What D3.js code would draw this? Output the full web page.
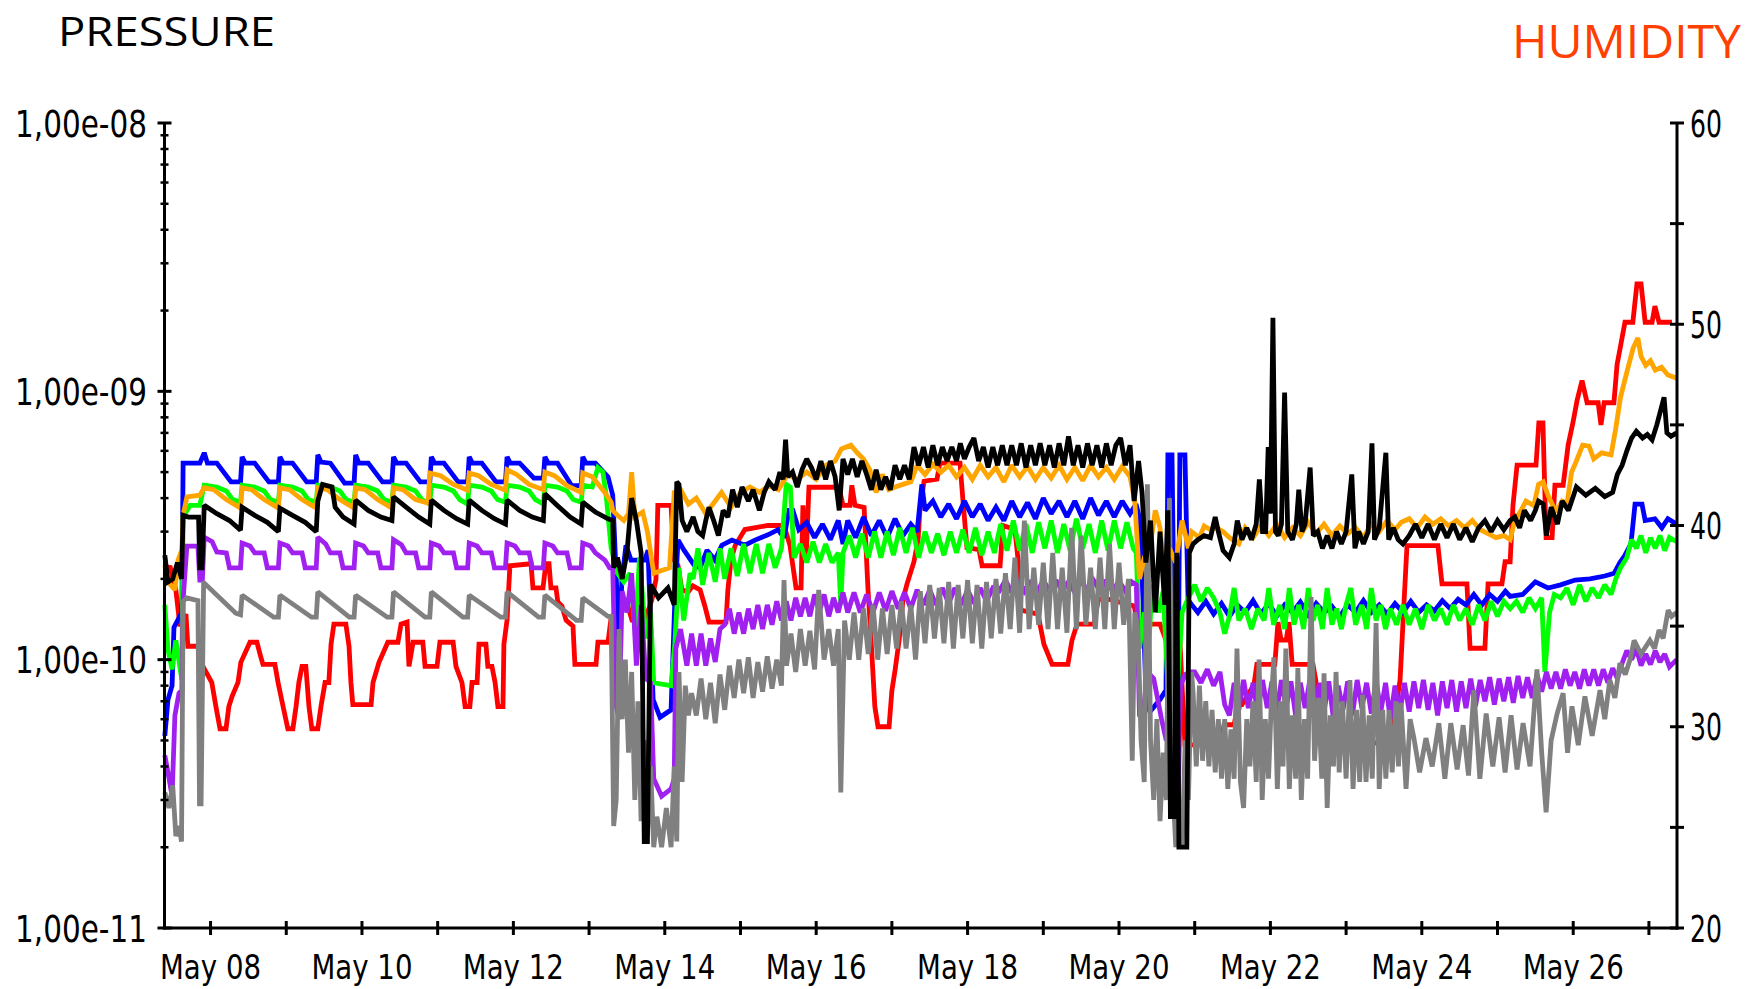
<!DOCTYPE html>
<html><head><meta charset="utf-8">
<script src="https://cdn.jsdelivr.net/npm/d3@7"></script>
<style>html,body{margin:0;padding:0;background:#fff}svg{display:block}</style>
</head><body>
<svg id="chart" width="1756" height="989"></svg>
<script>
// time of each point = hours since May 7 00:00; pressure arrays are in units of 1e-10 mbar
const UNIT = 1e-10;
const leftTickLabels = ["1,00e-11","1,00e-10","1,00e-09","1,00e-08"];
const leftTickValues = [1e-11,1e-10,1e-9,1e-8];
const rightTickLabels = ["20","30","40","50","60"];
const rightTickValues = [20,30,40,50,60];
const dayTickLabels = ["May 08","May 10","May 12","May 14","May 16","May 18","May 20","May 22","May 24","May 26"];

const blue = [[9.5,0.52],[10.5,0.71],[11.8,0.8],[12.4,1.32],[14.9,1.5],[15.3,5.4],[20.6,5.4],
[22,5.9],[23,5.4],[26,5.4],[30.5,4.6],[33.5,4.6],[34,5.7],[35,5.4],[38,5.4],[42.5,4.6],[45.5,4.6],
[46,5.7],[47,5.4],[50,5.4],[54.5,4.6],[57.5,4.6],[58,5.8],[59,5.45],[62,5.4],[66.5,4.55],[69.5,4.55],
[70,5.8],[71,5.4],[74,5.4],[78.5,4.6],[81.5,4.6],[82,5.7],[83,5.4],[86,5.4],[90.5,4.6],[93.5,4.6],
[94,5.7],[95,5.4],[98,5.4],[102.5,4.6],[105.5,4.6],[106,5.7],[107,5.4],[110,5.4],[114.5,4.6],[117.5,4.6],
[118,5.7],[119,5.4],[122,5.4],[126.5,4.75],[129.5,4.75],[130,5.7],[131,5.4],[134,5.4],[138.5,4.45],[141.5,4.45],
[142,5.7],[143,5.4],[146,5.4],[150,4.8],[151.5,4.1],
[152.8,1.8],[153.5,1.04],[154.4,1.98],[155.7,2.67],[157.3,2.35],[161.7,2.35],[162.7,2.56],[164.3,0.71],[166.5,0.61],[170,0.65],[171.2,1.67],[172.2,2.79],
[174.1,2.56],[177.3,2.25],[179.2,2.2],[181.4,2.56],[183.9,2.35],[186.1,2.67],[189.3,2.79],[193.4,2.67],[196.6,2.79],[200.7,2.92],[203.9,3.05],[205.8,2.85],[207.4,3.6],[208.6,3.6],[210.5,3.05],
[213,3.25],[215.5,2.85],[218,3.2],[220.5,2.8],[223,3.3],[224.5,2.7],[226,3.3],[228.5,2.85],[231,3.4],[233.5,2.9],[236,3.3],[238.5,2.85],[241,3.35],[243.5,2.9],[246,3.2],[248,3.0],[249.5,4.5],[250.5,3.6],
[253,3.9],[255.5,3.4],[258,3.8],[260.5,3.35],[263,3.9],[265.5,3.4],[268,3.8],[270.5,3.3],[273,3.7],[275.5,3.3],[278,3.9],[280.5,3.4],[283,3.85],[285.5,3.35],[288,4.0],[290.5,3.5],[293,3.9],[295.5,3.4],[298,3.9],[300.5,3.35],[303,4.0],[305.5,3.45],[308,3.9],[310.5,3.4],[313,3.9],[315.5,3.5],
[317.4,3.8],[318.7,3.3],[319.6,1.67],[320.6,0.71],[321.8,0.64],[325,0.71],[326.9,0.77],[327.5,5.8],[328.8,5.8],[329.8,0.71],[330.7,0.57],[331.3,5.8],[332.9,5.8],[333.9,1.67],[335.1,1.6],
[337,1.5],[339.5,1.65],[342,1.48],[344.5,1.62],[347,1.45],[349.5,1.6],[352,1.5],[354.5,1.66],[357,1.48],[359.5,1.62],[362,1.45],[364.5,1.6],[367,1.5],[369.5,1.64],[372,1.47],[374.5,1.62],[377,1.5],[379.5,1.58],[382,1.45],[384.5,1.6],[387,1.5],[389.5,1.66],[392,1.5],[394.5,1.6],[397,1.48],[399.5,1.62],[402,1.5],[404.5,1.65],[407,1.5],[409.5,1.6],[412,1.52],[414.5,1.66],[417,1.55],[419.5,1.68],[422,1.6],[424.5,1.75],[427,1.6],[429.5,1.75],[432,1.65],[434.5,1.8],
[436,1.72],[440,1.75],[444,1.95],[448,1.85],[452,1.9],[456.6,1.98],[461.3,2.0],[466,2.05],[469,2.1],[470.8,2.3],[472.4,2.45],[474.3,2.7],[475.6,3.8],[477.8,3.8],[478.8,3.3],[481.9,3.35],[484.1,3.1],[486,3.35],[488.8,3.2]];

const green = [[9.5,1.6],[10.5,1.09],[11.8,0.92],[13,1.18],[14.9,0.84],[15.3,3.4],[17.5,3.76],[20.6,3.76],
[22,4.47],[26,4.4],[29,4.25],[31,3.95],[33.5,3.86],[34,4.47],[38,4.4],[41,4.25],[43,3.95],[45.5,3.86],
[46,4.47],[50,4.4],[53,4.25],[55,3.95],[57.5,3.86],[58,4.47],[62,4.4],[65,4.25],[67,3.95],[69.5,3.86],
[70,4.47],[74,4.4],[77,4.25],[79,3.95],[81.5,3.86],[82,4.47],[86,4.4],[89,4.25],[91,3.95],[93.5,3.8],
[94,4.47],[98,4.4],[101,4.25],[103,3.95],[105.5,3.8],[106,4.47],[110,4.4],[113,4.25],[115,3.95],[117.5,3.86],
[118,4.47],[122,4.4],[125,4.25],[127,3.95],[129.5,3.8],[130,4.47],[134,4.4],[137,4.25],[139,3.95],[141.5,3.86],
[142,4.47],[145,4.4],[146.8,5.2],[148.4,5.0],[149.5,4.0],[151,2.6],[153,2.1],[155,1.95],[157,2.1],[158.6,1.3],[160,2.4],[162,1.2],[163.5,1.5],[164.5,0.82],[170,0.8],[171.2,1.15],[172.5,2.2],[174,1.4],[176,2.1],
[177,2.0],[178.5,2.6],[180,1.9],[182,2.5],[184,1.95],[185.5,2.6],[187,2.0],[189,2.6],[191,2.05],[193,2.7],[195,2.1],[197,2.7],[199,2.1],[201,2.7],[203,2.2],[205,2.6],[206.5,4.5],[207.8,4.4],[209,2.4],[211,2.7],[213,2.3],[215,2.75],[217,2.3],[219,2.7],[221,2.3],[223,2.5],[223.8,1.6],[224.5,2.5],[226.5,2.9],[228.5,2.4],[230.5,2.95],[232.5,2.4],[234.5,3.0],[236.5,2.4],[238.5,3.0],[240.5,2.45],[242.5,3.1],[244.5,2.5],[246.5,3.1],[248.5,2.4],[250.5,3.0],[252.5,2.5],[254.5,2.95],[256.5,2.45],[258.5,3.0],[260.5,2.5],[262.5,3.05],[264.5,2.5],[266.5,3.1],[268.5,2.45],[270.5,3.0],[272.5,2.5],[274.5,3.2],[276.5,2.55],[278.5,3.3],[280.5,2.55],[282.5,3.2],[284.5,2.5],[286.5,3.25],[288.5,2.6],[290.5,3.3],[292.5,2.5],[294.5,3.2],[296.5,2.55],[298.5,3.35],[300.5,2.6],[302.5,3.2],[304.5,2.5],[306.5,3.3],[308.5,2.55],[310.5,3.3],[312.5,2.6],[314.5,3.25],[316.5,2.6],
[317.5,2.5],[318.5,1.1],[320,1.5],[321,0.9],[322.5,1.9],[324.5,1.5],[326,1.8],[327.5,0.8],[329,1.0],[330.5,0.78],[332,1.5],[334,1.7],
[336,1.9],[338,1.65],[340,1.85],[342,1.7],[344,1.5],[345.5,1.25],[347,1.45],[348.5,1.85],[350,1.4],[352,1.55],[354,1.3],[356,1.55],[358,1.4],[359.5,1.85],[361,1.35],[363,1.6],[364.5,1.3],[366,1.85],[367.5,1.35],[369,1.6],[370.5,1.3],[372,1.85],[373.5,1.4],[375,1.6],[376.5,1.3],[378,1.85],[379.5,1.35],[381,1.55],[382.5,1.3],[384,1.6],[385.5,1.85],[387,1.35],[389,1.6],[390.5,1.3],[392,1.85],[393.5,1.4],[395,1.6],[396.5,1.3],[398,1.55],[400,1.35],[402,1.6],[404,1.35],[406,1.55],[408,1.3],[410,1.6],[412,1.4],[414,1.55],[416,1.35],[418,1.6],[420,1.4],[422,1.55],[424,1.35],[426,1.6],[428,1.4],[430,1.65],[432,1.45],[434,1.65],
[436,1.55],[438,1.65],[440,1.5],[442,1.7],[444,1.55],[446,1.7],[447,0.9],[448.5,1.5],[450,1.75],
[452,1.7],[454,1.85],[456,1.6],[458,1.9],[460,1.65],[462,1.85],[464,1.7],[466,1.9],[468,1.75],[469.5,2.0],[471,2.2],[473,2.4],[474.5,2.8],[476,2.6],[477.5,2.9],[479,2.5],[480.5,2.85],[482,2.6],[483.5,2.9],[485,2.55],[486.5,2.85],[488.8,2.75]];

const orange = [[9.5,2.25],[10.5,1.95],[12.7,1.82],[13.7,2.35],[14.9,2.56],[15.3,3.45],[16.5,4.04],[20.6,4.1],
[22,4.37],[25,4.3],[29,3.95],[33.5,3.67],[34,4.37],[37,4.3],[41,3.95],[45.5,3.67],[46,4.37],[49,4.3],[53,3.95],[57.5,3.67],
[58,4.37],[61,4.3],[65,3.95],[69.5,3.67],[70,4.37],[73,4.3],[77,3.95],[81.5,3.67],[82,4.37],[85,4.3],[89,3.95],[93,3.83],
[93.5,4.96],[97,4.85],[101,4.5],[105.5,4.28],[106,4.96],[109,4.85],[113,4.5],[117.5,4.28],[118,5.1],[121,4.9],[125,4.5],[129.5,4.3],
[130,5.0],[133,4.85],[137,4.45],[141.5,4.2],[142,4.96],[145,4.8],[149,4.2],[151,3.86],
[151.5,3.6],[153,3.45],[155,3.3],[156.5,3.5],[157.5,5.0],[158.5,3.4],[161,3.55],[162.5,3.0],[164.5,2.1],[169.5,2.2],[171,4.2],[173,4.3],[175.5,3.8],[178,4.0],[181,3.5],[184,3.9],[186,4.2],[189,3.7],[192,4.2],[195,4.4],[198,4.2],[201,4.45],[204,4.3],[207,4.9],[210,4.7],[213,5.0],[216,4.7],[219,5.3],[222,5.5],[224,6.1],[227,6.3],[229,5.9],[231,5.6],[233,5.1],[235,4.2],[237,4.9],[239,4.3],[241,4.4],[243.5,4.5],[246,4.6],
[248,5.3],[250.5,4.9],[253,5.35],[255.5,5.0],[258,5.3],[260.5,4.8],[263,5.2],[265.5,4.7],[268,5.3],[270.5,4.8],[273,5.2],[275.5,4.6],[278,5.3],[280.5,4.8],[283,5.25],[285.5,4.7],[288,5.2],[290.5,4.75],[293,5.3],[295.5,4.7],[298,5.2],[300.5,4.65],[303,5.3],[305.5,4.8],[308,5.2],[310.5,4.7],[313,5.25],[315.5,4.8],
[317,3.9],[318.5,2.0],[320,2.4],[322,2.7],[323.5,3.6],[325,3.1],[326.5,2.1],[328,2.6],[330,2.3],[332,3.3],[334,2.6],[335,3.0],[337.5,2.85],[339,3.15],[341,3.05],[343,3.1],[345,3.0],[347,2.85],[350,2.7],
[352,3.1],[354.5,2.85],[357,3.15],[359.5,2.9],[362,3.2],[364.5,2.85],[367,3.1],[369.5,2.9],[372,3.25],[374.5,2.95],[377,3.2],[379.5,2.9],[382,3.15],[384.5,2.95],[387,3.1],[389.5,2.85],[392,3.2],[394.5,3.0],[397,3.3],[399.5,3.05],[401.5,3.25],
[404,3.35],[406.5,3.1],[409,3.4],[411.5,3.2],[414,3.35],[416.5,3.15],[419,3.3],[421.5,3.1],[424,3.3],[426.5,3.05],[429,2.95],[431.5,2.85],[434,2.9],[436,2.8],[437.5,3.3],[439.5,3.6],[441,3.9],[443.5,3.75],[445,4.5],[446.5,4.6],[448,4.1],[450.5,3.55],[452.5,3.9],[454,3.8],[455.5,5.0],[457,5.5],[459,6.3],[461,6.25],[462.5,5.6],[465,5.9],[468,5.8],[469.5,7.3],[471,9.5],[473,11.8],[475,14.5],[476.5,15.8],[477.5,13.5],[479,12.5],[480.5,13.0],[482,12.0],[484,12.3],[486,11.5],[488.8,11.2]];

const black = [[9.5,2.45],[10.5,1.95],[12,2.0],[13.5,2.3],[14.8,2.0],[15.3,3.45],[17,3.4],[20.2,3.4],[20.6,2.2],[21.3,2.2],
[22,3.76],[26,3.5],[30,3.3],[33.5,3.04],[34,3.7],[38,3.45],[42,3.25],[45.5,3.0],[46,3.67],[50,3.45],[54,3.25],[57.5,3.0],
[58,3.9],[59.5,4.5],[62.5,4.4],[63.5,3.7],[66,3.4],[69.5,3.2],[70,3.93],[74,3.6],[78,3.4],[81.5,3.3],[82,4.04],[86,3.7],[90,3.4],[93.5,3.2],
[94,3.93],[98,3.6],[102,3.35],[105.5,3.2],[106,3.93],[110,3.6],[114,3.35],[117.5,3.2],[118,3.93],[122,3.6],[126,3.4],[129.5,3.3],
[130,4.15],[134,3.75],[138,3.4],[141.5,3.2],[142,3.86],[146,3.55],[150,3.35],[151.5,3.3],
[151.8,2.2],[153,2.4],[154.5,2.0],[156,2.5],[157.5,4.0],[159,3.3],[160.5,2.5],[161.5,0.21],[162.5,0.21],[163.5,1.9],[166,1.7],[169,1.85],[171,1.6],[171.8,4.6],[172.5,4.5],[173.5,3.3],
[175,3.0],[177,3.4],[178.5,3.0],[180,2.9],[181,3.3],[182,3.7],[183.5,3.3],[185,2.9],[186.5,3.6],[188,3.4],[189.5,4.3],[191,3.7],[192.5,4.4],[194.5,3.9],[196,4.3],[198,3.6],[199.5,4.2],[201,4.6],[203,4.3],[204.5,5.0],[205.5,4.7],[206.3,6.6],[207,4.8],[208.5,5.0],[210,4.4],[211.5,5.1],[213,5.6],[214.5,5.2],[216,4.7],[217.5,5.5],[219,4.7],[220.5,5.5],[222,4.8],[223.3,3.6],[224.5,5.6],[226,4.9],[227.5,5.6],[229,4.8],[230.5,5.5],[232,4.9],[233.5,4.3],[235,5.1],[236.5,4.3],[238,4.8],[239.5,4.3],[241,5.3],[242.5,4.7],[244,5.3],[245.5,4.7],[247,6.2],[248.5,5.3],[250,6.2],[251.5,5.2],[253,6.3],[254.5,5.3],[256,6.2],[257.5,5.5],[259,6.2],[260.5,5.5],[261.7,6.4],[263,5.6],[264.5,6.2],[266,6.7],[267.5,5.5],[269,6.2],[270.5,5.2],[272,6.2],[273.5,5.3],[275,6.3],[276.5,5.3],[278,6.3],[279.5,5.3],[281,6.4],[282.5,5.2],[284,6.3],[285.5,5.3],[287,6.4],[288.5,5.3],[290,6.3],[291.5,5.2],[293,6.4],[294.5,5.3],[296,6.8],[297.5,5.3],[299,6.3],[300.5,5.2],[302,6.4],[303.5,5.3],[305,6.3],[306.5,5.2],[308,6.4],[309.5,5.3],[311,6.3],[312.5,6.7],[314,5.3],[315.5,6.3],
[316.8,3.9],[318.2,5.5],[319.3,4.2],[320.5,2.3],[322,3.3],[323.5,1.5],[325,3.0],[326.5,1.6],[327.5,3.6],[328.3,0.26],[329.5,0.26],[330.3,2.5],[331,0.2],[333.5,0.2],[334.3,2.5],[335.5,2.7],[337,2.8],[339,2.9],[341,2.85],[342.5,3.4],[343.5,3.0],[345,2.55],[347,2.4],[348.5,2.7],[349.5,3.3],[351,2.8],[352.5,3.1],[354,2.8],[355.5,3.2],[356.5,4.7],[357.5,3.0],[358.5,3.0],[359.3,6.2],[360,3.5],[360.8,18.8],[361.6,3.0],[362.5,2.9],[363.5,3.2],[364.5,9.9],[365.5,3.0],[367,2.8],[368.2,3.2],[369,4.3],[370,3.0],[371,3.2],[372.6,5.2],[373.6,2.9],[375,3.0],[376.5,2.6],[378,2.9],[379.5,2.6],[381,3.0],[382.5,2.7],[384,3.0],[385.8,4.9],[386.8,2.6],[388,3.0],[389.5,2.7],[391,3.0],[392.2,6.4],[393,2.8],[394.5,3.1],[396.6,5.9],[397.5,2.8],[399,3.1],[400.5,2.8],[402,2.7],[404,2.9],[406,3.2],[408,2.85],[410,3.2],[412,2.8],[414,3.2],[416,2.85],[418,3.2],[420,2.8],[422,3.1],[424,2.75],[426,3.1],[428,3.3],[430,3.0],[432,3.3],[434,3.05],[436,3.3],[437.5,3.4],[439,3.1],[440.5,3.6],[442.5,3.3],[444,3.6],[445,3.9],[446.5,3.8],[447.5,2.9],[449,3.7],[451,3.2],[452.5,3.9],[454.5,3.6],[457,4.4],[460,4.1],[463,4.35],[466,4.05],[468.5,4.2],[470,4.9],[471.5,5.3],[473,6.0],[474.5,6.7],[476,7.1],[478,6.7],[479.5,6.9],[481,6.6],[482.5,7.5],[484.8,9.5],[485.7,7.0],[487,6.8],[488.8,7.0]];

const purple = [[9.5,0.44],[10.5,0.38],[11.8,0.31],[12.7,0.62],[14,0.75],[14.9,0.77],[15.3,1.67],[16.5,2.65],[20,2.65],[20.6,1.98],[21.4,1.98],
[22,2.86],[24.5,2.75],[26,2.52],[29,2.5],[30,2.2],[33.5,2.2],[34,2.72],[36.5,2.65],[38,2.5],[41,2.5],[42,2.2],[45.5,2.2],
[46,2.72],[48.5,2.65],[50,2.5],[53,2.5],[54,2.2],[57.5,2.2],[58,2.86],[60.5,2.7],[62,2.5],[65,2.5],[66,2.2],[69.5,2.2],
[70,2.72],[72.5,2.65],[74,2.5],[77,2.5],[78,2.2],[81.5,2.2],[82,2.8],[84.5,2.68],[86,2.5],[89,2.5],[90,2.2],[93.5,2.2],
[94,2.72],[96.5,2.65],[98,2.5],[101,2.5],[102,2.2],[105.5,2.2],[106,2.72],[108.5,2.65],[110,2.5],[113,2.5],[114,2.2],[117.5,2.2],
[118,2.72],[120.5,2.65],[122,2.5],[125,2.5],[126,2.2],[129.5,2.2],[130,2.72],[132.5,2.65],[134,2.5],[137,2.5],[138,2.2],[141.5,2.2],
[142,2.72],[144.5,2.65],[146,2.5],[149,2.35],[150.5,2.2],[151.5,2.2],
[152.5,0.68],[153.5,0.6],[154.5,1.8],[156,1.5],[157.5,2.1],[159,0.95],[160.5,1.6],[162,0.85],[163.5,0.82],[164.5,0.36],[167,0.31],[170,0.33],[171,0.36],[171.5,1.1],[173,1.3],[175,0.95],
[176.5,1.25],[178,0.95],[179.5,1.25],[181,0.95],[182.5,1.2],[184,0.98],[185.5,1.3],[187,1.35],[188.5,1.55],[190,1.25],[191.5,1.5],[193,1.25],[194.5,1.55],[196,1.3],[197.5,1.6],[199,1.3],[200.5,1.6],[202,1.35],[203.5,1.65],[205,1.4],[206.5,1.65],[208,1.4],[209.5,1.7],[211,1.45],[212.5,1.7],[214,1.45],[215.5,1.75],[217,1.5],[218.5,1.75],[220,1.45],[221.5,1.7],[223,1.5],[224.5,1.78],[226,1.5],[228,1.78],[230,1.5],[232,1.75],[234,1.5],[236,1.78],[238,1.52],[240,1.8],[242,1.55],[244,1.78],[246,1.55],[248,1.82],[250,1.6],[252,1.82],[254,1.6],[256,1.85],[258,1.62],[260,1.85],[262,1.6],[264,1.82],[266,1.62],[268,1.85],[270,1.65],[272,1.85],[274,1.8],[276,1.98],[278,1.78],[280,1.98],[282,1.8],[284,1.97],[286,1.78],[288,1.98],[290,1.8],[292,1.98],[294,1.8],[296,1.95],[298,1.78],[300,1.98],[302,1.8],[304,1.97],[306,1.8],[308,1.98],[310,1.8],[312,1.97],[314,1.8],[316,1.95],
[317.5,1.9],[318.5,0.62],[319.5,0.6],[321,0.9],[323,0.85],[325.5,0.6],[327,0.5],[328.5,0.85],[329.8,0.3],[330.7,0.28],[331.5,0.8],[333,0.88],[334.5,0.9],
[336,0.9],[338,0.82],[340,0.92],[342,0.8],[344,0.9],[345.5,0.68],[347,0.62],[348.5,0.82],[350,0.65],[351.5,0.84],[353,0.66],[354.5,0.82],[356,0.63],[357.5,0.84],[359,0.66],[360.5,0.83],[362,0.64],[363.5,0.84],[365,0.66],[366.5,0.83],[368,0.62],[369.5,0.82],[371,0.66],[372.5,0.84],[374,0.62],[375.5,0.82],[377,0.64],[378.5,0.83],[380,0.6],[381.5,0.8],[383,0.65],[384.5,0.83],[386,0.62],[387.5,0.84],[389,0.66],[390.5,0.82],[392,0.63],[393.5,0.84],[395,0.64],[396.5,0.82],[398,0.6],[399.5,0.8],[401,0.63],[402.5,0.82],[404,0.64],[405.5,0.83],[407,0.66],[408.5,0.84],[410,0.65],[411.5,0.82],[413,0.62],[414.5,0.83],[416,0.66],[417.5,0.84],[419,0.64],[420.5,0.83],[422,0.66],[423.5,0.85],[425,0.67],[426.5,0.84],[428,0.7],[429.5,0.86],[431,0.68],[432.5,0.85],[434,0.7],[435.5,0.86],[437,0.69],[438.5,0.87],[440,0.72],[441.5,0.86],[443,0.72],[444.5,0.88],[446,0.76],[447.5,0.9],[449,0.78],[450.5,0.9],[452,0.78],[453.5,0.92],[455,0.8],[456.5,0.9],[458,0.78],[459.5,0.92],[461,0.8],[462.5,0.92],[464,0.8],[465.5,0.92],[467,0.82],[468.5,0.93],[470,0.85],[471.5,0.97],[473,1.08],[474.5,1.0],[476,1.1],[477.5,0.95],[479,1.05],[480.5,0.96],[482,1.08],[483.5,0.98],[485,1.05],[486.5,0.94],[488.8,1.0]];

const gray = [[9.5,0.32],[10.8,0.28],[12,0.34],[13,0.22],[14,0.24],[14.8,0.21],[15.3,1.65],[16.5,1.7],[20,1.66],[20.5,0.29],[21,0.29],[21.8,1.93],
[22,1.93],[32,1.49],[33.5,1.47],[34,1.74],[44,1.44],[45.5,1.44],[46,1.74],[56,1.44],[57.5,1.44],[58,1.79],[68,1.44],[69.5,1.44],
[70,1.74],[80,1.44],[81.5,1.44],[82,1.79],[92,1.44],[93.5,1.44],[94,1.79],[104,1.44],[105.5,1.44],[106,1.74],[116,1.44],[117.5,1.44],
[118,1.79],[128,1.44],[129.5,1.44],[130,1.74],[140,1.4],[141.5,1.4],[142,1.7],[150,1.45],[151,1.45],
[151.8,0.24],[152.6,0.3],[153.5,1.3],[154.5,0.6],[155.5,1.0],[156.5,0.45],[157.5,0.9],[158.5,0.3],[159.5,0.7],[160.5,0.25],[161.5,0.5],[162.5,0.22],[163.5,0.4],[164.5,0.2],[165.5,0.26],[167,0.2],[168.5,0.28],[170,0.2],[171,0.4],[171.8,0.21],[172.5,0.9],[173.5,0.35],[174.5,0.8],[175.5,0.62],
[176.5,0.75],[178,0.62],[179.5,0.85],[181,0.6],[182.5,0.82],[184,0.58],[185.5,0.88],[187,0.65],[188.5,0.95],[190,0.72],[191.5,1.0],[193,0.75],[194.5,1.02],[196,0.72],[197.5,0.98],[199,0.76],[200.5,1.03],[202,0.78],[203.5,1.0],[205,0.8],[205.8,1.98],[206.6,0.95],[208,1.25],[209.5,0.9],[211,1.3],[212.5,0.95],[214,1.28],[215.5,0.92],[216.8,1.82],[218.5,1.0],[220,1.3],[221.5,0.95],[223,1.3],[223.8,0.32],[225,1.4],[226.5,1.0],[228,1.5],[229.5,1.0],[231,1.55],[232.5,1.05],[234,1.6],[235.5,1.0],[237,1.55],[238.5,1.05],[240,1.6],[241.5,1.1],[243,1.65],[244.5,1.1],[246,1.6],[247.5,1.0],[249,1.8],[250.5,1.15],[252,1.9],[253.5,1.2],[255,1.85],[256.5,1.15],[258,1.95],[259.5,1.1],[261,1.9],[262.5,1.2],[264,1.98],[265.5,1.15],[267,1.9],[268.5,1.1],[270,1.95],[271.5,1.2],[273,2.0],[274.5,1.25],[276,2.1],[277.5,1.3],[279,2.4],[280.5,1.26],[282,3.3],[283.5,1.3],[285,2.2],[286.5,1.35],[288,2.3],[289.5,1.3],[291,2.5],[292.5,1.3],[294,2.2],[295.5,1.26],[297,3.1],[298.5,1.3],[300,2.9],[301.5,1.35],[303,2.2],[304.5,1.3],[306,2.4],[307.5,1.3],[309,2.7],[310.5,1.3],[312,2.3],[313.5,1.35],[315,2.0],[316.2,0.42],[317,1.5],
[318,1.3],[319,0.5],[320,0.35],[321,4.5],[322,0.5],[323,0.3],[324,0.6],[325,0.25],[326,0.45],[327,0.3],[328,4.0],[329,0.35],[330,0.2],[331,0.3],[332,0.2],[333,0.5],[334,0.3],[335,0.9],
[335.5,0.75],[336.5,0.4],[337.5,0.8],[338.5,0.42],[339.5,0.7],[340.5,0.4],[341.5,0.65],[342.5,0.38],[343.5,0.6],[344.5,0.36],[345.5,0.6],[346.5,0.33],[347.5,0.55],[348.5,0.36],[349.4,1.1],[350.5,0.35],[351.5,0.28],[352.5,0.6],[353.5,0.4],[354.5,0.7],[355.5,0.35],[356.4,1.0],[357.4,0.3],[358.4,0.6],[359.4,0.36],[360.3,0.7],[361.1,1.02],[362.2,0.33],[363.2,0.7],[364,0.4],[364.9,1.1],[366,0.33],[367,0.62],[368,0.36],[368.7,0.93],[369.8,0.3],[370.8,0.6],[371.8,0.36],[372.9,1.71],[374,0.42],[375.2,0.72],[376.3,0.36],[377,0.89],[378,0.28],[379,0.62],[380,0.4],[380.8,0.9],[381.8,0.38],[382.8,0.7],[384,0.36],[385.2,0.84],[386.2,0.33],[387.3,0.65],[388.3,0.35],[389.2,0.74],[390.3,0.35],[391.3,0.62],[392.3,0.36],[393.5,1.37],[394.5,0.33],[395.6,0.65],[396.6,0.36],[397.6,0.65],[398.6,0.38],[399.8,0.7],[400.6,0.4],[401.4,0.69],[403,0.33],[404.3,0.6],[405.5,0.51],[407.3,0.38],[409.3,0.51],[411.3,0.4],[413.4,0.58],[415.3,0.36],[417.2,0.58],[419.2,0.39],[421.1,0.57],[422.8,0.37],[424.5,0.77],[426.4,0.36],[428.4,0.63],[430.5,0.4],[432.5,0.61],[434.4,0.38],[436.3,0.62],[438.2,0.39],[440.1,0.58],[442.3,0.4],[444.5,0.92],[446,0.45],[447.4,0.27],[449,0.5],[450.9,0.63],[452.8,0.75],[454.2,0.45],[455.6,0.67],[457.6,0.48],[459.7,0.73],[462,0.52],[464.5,0.77],[466,0.6],[467.6,0.84],[469.2,0.72],[470.8,0.97],[472.5,0.88],[474,1.0],[475.3,1.18],[477.5,1.05],[480.3,1.18],[481.8,1.1],[483.2,1.29],[484.5,1.2],[486.1,1.53],[487.2,1.45],[488.8,1.5]];

// humidity in percent (right axis)
const humidity = [[9.5,37.5],[11.1,38.0],[13.0,36.8],[14.3,35.0],[16.2,35.6],[16.8,34.0],[20.0,34.0],[21.6,33.0],[24.4,32.2],[25.7,31.0],[27.0,29.9],[28.9,29.9],[29.8,31.0],[30.8,31.5],[32.7,32.2],[33.6,33.2],[36.5,34.2],[38.7,34.2],[39.7,33.6],[40.6,33.1],[44.4,33.1],[45.4,32.2],[47.0,31.0],[48.5,29.9],[50.1,29.9],[51.1,31.0],[52.0,32.2],[53.0,33.0],[54.2,33.0],[55.2,31.0],[56.1,29.9],[58.0,29.9],[59.0,31.0],[60.3,32.2],[61.5,32.2],[62.2,34.1],[63.1,35.1],[66.9,35.1],[67.9,34.0],[68.5,32.2],[69.1,31.1],[74.9,31.1],[75.5,32.2],[77.4,33.2],[80.2,34.2],[83.4,34.2],[84.4,35.1],[86.3,35.2],[86.9,33.0],[88.2,34.2],[91.3,34.2],[92.0,33.0],[95.8,33.0],[96.7,34.2],[100.9,34.2],[101.8,33.0],[103.7,32.2],[104.7,31.0],[106.2,31.0],[106.9,32.2],[108.5,32.2],[109.1,34.1],[111.3,34.1],[111.9,33.0],[113.2,33.0],[114.2,32.2],[115.1,31.0],[116.7,31.0],[117.0,34.1],[118.0,35.3],[118.9,38.0],[125.6,38.1],[126.2,36.9],[129.4,36.9],[130.3,38.1],[131.3,38.1],[131.9,36.9],[133.5,36.9],[134.1,36.2],[135.4,36.0],[136.7,35.3],[138.9,35.0],[139.5,33.1],[146.2,33.1],[146.8,34.2],[150.0,34.2],[150.9,35.3],[153.2,36.0],[156.3,36.0],[157.6,35.3],[161.7,35.3],[163.9,36.3],[165.2,37.3],[165.8,41.0],[170.0,41.0],[170.9,38.3],[172.2,38.0],[173.4,36.8],[175.4,36.7],[176.9,37.0],[179.2,36.8],[180.7,36.0],[182.0,35.2],[187.4,35.2],[188.0,36.8],[189.0,38.3],[190.3,39.0],[193.4,39.8],[200.7,40.0],[205.8,40.0],[207.7,39.0],[209.6,36.9],[211.2,36.9],[211.8,41.0],[212.8,38.3],[213.7,41.9],[223.2,41.9],[224.5,41.0],[226.7,41.0],[227.3,42.0],[228.3,41.0],[231.2,40.9],[232.4,36.9],[233.4,34.3],[234.6,31.0],[235.6,30.0],[239.1,30.0],[240.0,31.8],[241.0,32.8],[242.3,34.3],[243.5,36.3],[244.8,37.1],[247.0,38.2],[248.3,39.3],[248.9,40.8],[250.2,42.2],[254.3,42.3],[255.2,43.1],[261.6,43.1],[262.5,41.3],[263.8,38.9],[267.6,38.8],[268.6,38.0],[274.3,38.0],[275.2,40.0],[279.0,39.8],[280.0,38.3],[280.9,35.8],[286.3,35.6],[288.2,34.1],[290.8,33.1],[295.8,33.1],[297.1,34.3],[298.7,35.1],[304.1,35.1],[305.4,36.3],[307.2,36.4],[316.8,36.0],[318.0,35.1],[325.0,35.1],[326.9,34.3],[330.1,34.8],[331.3,34.3],[332.9,29.1],[344.3,29.1],[345.3,30.1],[348.5,30.1],[349.7,31.1],[351.0,31.1],[354.8,32.1],[355.7,33.1],[361.4,33.1],[362.4,35.2],[363.4,34.3],[365.0,34.3],[365.9,35.2],[366.9,33.1],[373.5,33.1],[374.4,32.3],[375.7,29.2],[397.9,29.2],[398.9,30.0],[400.1,31.3],[401.1,32.3],[402.4,36.3],[403.3,39.0],[413.1,39.0],[414.4,37.1],[422.3,37.1],[423.3,33.9],[428.0,33.9],[429.0,37.1],[433.4,37.1],[434.4,38.2],[436.0,38.2],[436.9,41.0],[438.2,43.0],[444.2,43.0],[445.1,45.1],[446.4,45.1],[447.4,39.4],[449.3,39.4],[450.2,42.0],[452.8,42.0],[454.4,44.0],[455.9,45.1],[457.2,46.2],[458.8,47.2],[460.4,46.1],[463.9,46.1],[464.8,45.0],[465.8,46.1],[468.9,46.1],[469.9,48.0],[471.1,49.0],[472.4,50.1],[474.9,50.1],[476.2,52.0],[477.5,52.0],[478.8,50.1],[481.0,50.1],[481.9,50.9],[483.2,50.1],[487.3,50.1]];

const START = Date.UTC(2021, 4, 7, 0, 0);
const toDate = h => new Date(START + h * 3600e3);

const svg = d3.select("#chart");
svg.append("rect").attr("width",1756).attr("height",989).attr("fill","#fff");

const X0 = 164.5, X1 = 1677, Y0 = 123, Y1 = 928;
const x = d3.scaleUtc().domain([toDate(9.4), toDate(488.9)]).range([X0, X1]);
const yL = d3.scaleLog().domain([1e-11, 1e-8]).range([Y1, Y0]);
const yR = d3.scaleLinear().domain([20, 60]).range([Y1, Y0]);

const lineP = d3.line().x(d => x(toDate(d[0]))).y(d => yL(d[1] * UNIT));
const lineH = d3.line().x(d => x(toDate(d[0]))).y(d => yR(d[1]));

const seriesList = [
  {data: humidity, color: "#ff0000", line: lineH},
  {data: blue, color: "#0000ff", line: lineP},
  {data: green, color: "#00ff00", line: lineP},
  {data: purple, color: "#a020f0", line: lineP},
  {data: gray, color: "#808080", line: lineP},
  {data: orange, color: "#ffa500", line: lineP},
  {data: black, color: "#000000", line: lineP}
];
const gLines = svg.append("g");
seriesList.forEach(s => {
  gLines.append("path").attr("d", s.line(s.data)).attr("fill","none")
    .attr("stroke", s.color).attr("stroke-width", 4.8).attr("stroke-linejoin","miter").attr("stroke-miterlimit",2);
});

// axes lines
const ax = svg.append("g").attr("stroke","#000").attr("stroke-width",3);
ax.append("line").attr("x1",X0).attr("x2",X0).attr("y1",Y0).attr("y2",Y1+1.5);
ax.append("line").attr("x1",X1).attr("x2",X1).attr("y1",Y0).attr("y2",Y1+1.5);
ax.append("line").attr("x1",X0-1.5).attr("x2",X1+1.5).attr("y1",Y1).attr("y2",Y1);

// left ticks (log scale: majors at decades, minors at 2..9)
yL.ticks().forEach(v => {
  const major = leftTickValues.some(m => Math.abs(m - v) / m < 1e-6);
  const yy = yL(v);
  ax.append("line").attr("x1", X0 - (major ? 7 : 4)).attr("x2", X0 + (major ? 7 : 4))
    .attr("y1", yy).attr("y2", yy).attr("stroke-width", major ? 3 : 2.5);
});
// right ticks every 5
yR.ticks(8).forEach(v => {
  const yy = yR(v);
  ax.append("line").attr("x1", X1 - 7).attr("x2", X1 + 7).attr("y1", yy).attr("y2", yy);
});
// bottom ticks every day
const days = d3.utcDay.range(toDate(24), toDate(481));
days.forEach(d => {
  const xx = x(d);
  ax.append("line").attr("x1", xx).attr("x2", xx).attr("y1", Y1 - 7).attr("y2", Y1 + 7);
});

const tickFont = "'DejaVu Sans', 'Liberation Sans', sans-serif";
const tg = svg.append("g").attr("font-family", tickFont).attr("fill","#000");
leftTickValues.forEach((v, i) => {
  tg.append("text").attr("x", 15).attr("y", yL(v) + 13.5).attr("font-size", 37)
    .attr("textLength", 132).attr("lengthAdjust","spacingAndGlyphs").text(leftTickLabels[i]);
});
rightTickValues.forEach((v, i) => {
  tg.append("text").attr("x", 1690).attr("y", yR(v) + 13.5).attr("font-size", 37)
    .attr("textLength", 32).attr("lengthAdjust","spacingAndGlyphs").text(rightTickLabels[i]);
});
dayTickLabels.forEach((lab, i) => {
  const d = toDate(24 + 48 * i);
  tg.append("text").attr("x", x(d)).attr("y", 979).attr("font-size", 34).attr("text-anchor","middle")
    .attr("textLength", 101).attr("lengthAdjust","spacingAndGlyphs").text(lab);
});

// titles
svg.append("text").attr("x", 58).attr("y", 46).attr("font-family","'Comic Sans MS','Open Sans',sans-serif")
  .attr("font-size", 41).attr("fill","#000").attr("textLength",217).attr("lengthAdjust","spacingAndGlyphs").text("PRESSURE");
svg.append("text").attr("x", 1512).attr("y", 58).attr("font-family","'Comic Sans MS','Open Sans',sans-serif")
  .attr("font-size", 45).attr("fill","#ff4000").attr("textLength",229).attr("lengthAdjust","spacingAndGlyphs").text("HUMIDITY");
</script>
</body></html>
